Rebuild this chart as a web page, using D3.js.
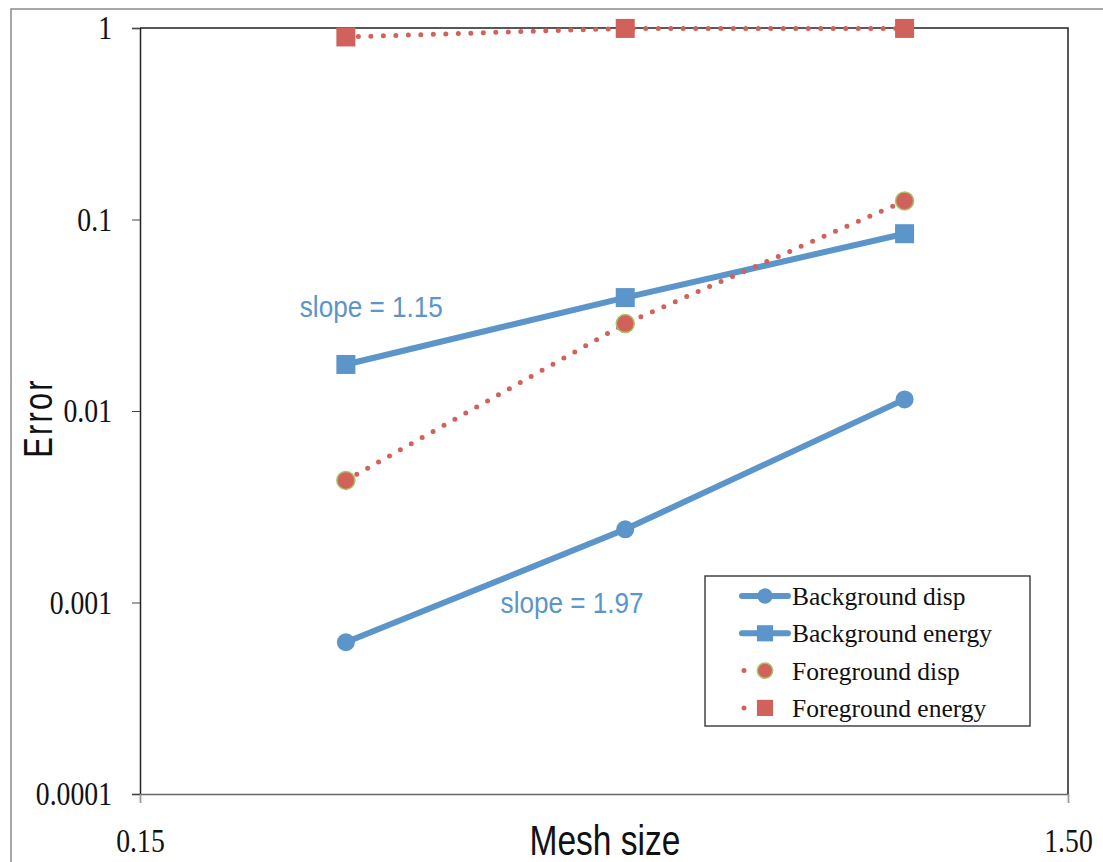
<!DOCTYPE html>
<html>
<head>
<meta charset="utf-8">
<script src="https://cdn.jsdelivr.net/npm/d3@7"></script>
<style>
  body { margin: 0; background: #fff; }
  svg { display: block; }
</style>
</head>
<body>
<svg id="chart" width="1103" height="862"></svg>
<script>
// data
const meshSize = [0.25, 0.5, 1.0];
const bgDisp = [0.00062, 0.00241, 0.0115];
const bgEnergy = [0.0175, 0.0391, 0.0843];
const fgDisp = [0.00434, 0.0286, 0.125];
const fgEnergy = [0.898, 0.995, 0.995];
const yTicks = [1, 0.1, 0.01, 0.001, 0.0001];
const yTickLabels = ["1", "0.1", "0.01", "0.001", "0.0001"];
const xTicks = [0.15, 1.5];
const xTickLabels = ["0.15", "1.50"];
const seriesNames = ["Background disp", "Background energy", "Foreground disp", "Foreground energy"];
const slopeLabels = [
  { text: "slope = 1.15", x: 0.223, y: 0.031 },
  { text: "slope = 1.97", x: 0.367, y: 0.00088 }
];

const blue = "#5B95C9";
const red = "#D1615B";
const sans = "'Liberation Sans', Arial, sans-serif";
const serif = "'Liberation Serif', 'Times New Roman', serif";

const series = [
  { name: seriesNames[0], values: bgDisp, color: blue, dotted: false, marker: "circle" },
  { name: seriesNames[1], values: bgEnergy, color: blue, dotted: false, marker: "square" },
  { name: seriesNames[2], values: fgDisp, color: red, dotted: true, marker: "circle", outline: "#A5C46A" },
  { name: seriesNames[3], values: fgEnergy, color: red, dotted: true, marker: "square" }
];

const margin = { top: 28, right: 35, bottom: 68, left: 140 };
const width = 1103, height = 862;

const svg = d3.select("#chart");

// outer frame
svg.append("rect")
    .attr("x", 11).attr("y", 9)
    .attr("width", width).attr("height", height)
    .attr("fill", "none")
    .attr("stroke", "#8a8a8a")
    .attr("stroke-width", 1.5);

const x = d3.scaleLog([0.15, 1.5], [margin.left, width - margin.right]);
const y = d3.scaleLog([0.0001, 1], [height - margin.bottom, margin.top]);

// plot frame (top and right)
svg.append("path")
    .attr("d", `M${x(0.15)},${y(1)}H${x(1.5)}V${y(0.0001)}`)
    .attr("fill", "none")
    .attr("stroke", "#222")
    .attr("stroke-width", 1.5);

const yAxis = d3.axisLeft(y)
    .tickValues(yTicks)
    .tickFormat((d, i) => yTickLabels[i])
    .tickSize(8);

svg.append("g")
    .attr("transform", `translate(${margin.left},0)`)
    .call(yAxis)
    .call(g => g.select(".domain").attr("stroke", "#222").attr("stroke-width", 1.5))
    .call(g => g.selectAll(".tick line").attr("stroke", "#444"))
    .call(g => g.selectAll("text")
        .attr("x", null)
        .attr("transform", "translate(-28,0) scale(0.84,1)")
        .attr("font-family", serif)
        .attr("font-size", 33)
        .attr("fill", "#111"));

const xAxis = d3.axisBottom(x)
    .tickValues(xTicks)
    .tickFormat((d, i) => xTickLabels[i])
    .tickSize(9);

svg.append("g")
    .attr("transform", `translate(0,${height - margin.bottom})`)
    .call(xAxis)
    .call(g => g.select(".domain").attr("stroke", "#666").attr("stroke-width", 1.5))
    .call(g => g.selectAll(".tick line").attr("stroke", "#999"))
    .call(g => g.selectAll("text")
        .attr("y", null)
        .attr("dy", null)
        .attr("transform", "translate(0,58) scale(0.84,1)")
        .attr("font-family", serif)
        .attr("font-size", 33)
        .attr("fill", "#111"));

// axis titles
svg.append("text")
    .attr("transform", `translate(52,${(y(1) + y(0.0001)) / 2 + 7}) rotate(-90) scale(0.75,1)`)
    .attr("text-anchor", "middle")
    .attr("font-family", sans)
    .attr("font-size", 41)
    .attr("letter-spacing", 3)
    .attr("fill", "#111")
    .text("Error");

svg.append("text")
    .attr("transform", "translate(605,855) scale(0.78,1)")
    .attr("text-anchor", "middle")
    .attr("font-family", sans)
    .attr("font-size", 43)
    .attr("fill", "#111")
    .text("Mesh size");

const line = d3.line()
    .x((d, i) => x(meshSize[i]))
    .y(d => y(d));

function drawMarker(g, s, cx, cy, scale) {
  if (s.marker === "circle") {
    g.append("circle")
        .attr("cx", cx).attr("cy", cy)
        .attr("r", 9 * scale)
        .attr("fill", s.color)
        .attr("stroke", s.outline || "none")
        .attr("stroke-width", s.outline ? 1.5 : 0);
  } else {
    const h = 9.5 * scale;
    g.append("rect")
        .attr("x", cx - h).attr("y", cy - h)
        .attr("width", 2 * h).attr("height", 2 * h)
        .attr("fill", s.color);
  }
}

const marks = svg.append("g");
series.forEach(s => {
  marks.append("path")
      .datum(s.values)
      .attr("d", line)
      .attr("fill", "none")
      .attr("stroke", s.color)
      .attr("stroke-width", s.dotted ? 5 : 6)
      .attr("stroke-linecap", s.dotted ? "round" : "butt")
      .attr("stroke-dasharray", s.dotted ? "0 12.5" : null);
  s.values.forEach((v, i) => drawMarker(marks, s, x(meshSize[i]), y(v), 1));
});

// slope annotations
slopeLabels.forEach(l => {
  svg.append("text")
      .attr("transform", `translate(${x(l.x)},${y(l.y)}) scale(0.87,1)`)
      .attr("font-family", sans)
      .attr("font-size", 30)
      .attr("fill", blue)
      .text(l.text);
});

// legend
const legend = svg.append("g").attr("transform", "translate(705,576)");
legend.append("rect")
    .attr("width", 325).attr("height", 150)
    .attr("fill", "#fff")
    .attr("stroke", "#444")
    .attr("stroke-width", 1.5);

series.forEach((s, i) => {
  const row = legend.append("g").attr("transform", `translate(0,${20 + i * 37.3})`);
  row.append("line")
      .attr("x1", s.dotted ? 39 : 37).attr("x2", s.dotted ? 81 : 83)
      .attr("stroke", s.color)
      .attr("stroke-width", s.dotted ? 5 : 6)
      .attr("stroke-linecap", "round")
      .attr("stroke-dasharray", s.dotted ? "0 21" : null);
  drawMarker(row, s, 60, 0, 0.85);
  row.append("text")
      .attr("x", 87)
      .attr("y", 9)
      .attr("font-family", serif)
      .attr("font-size", 25.5)
      .attr("fill", "#111")
      .text(s.name);
});
</script>
</body>
</html>
